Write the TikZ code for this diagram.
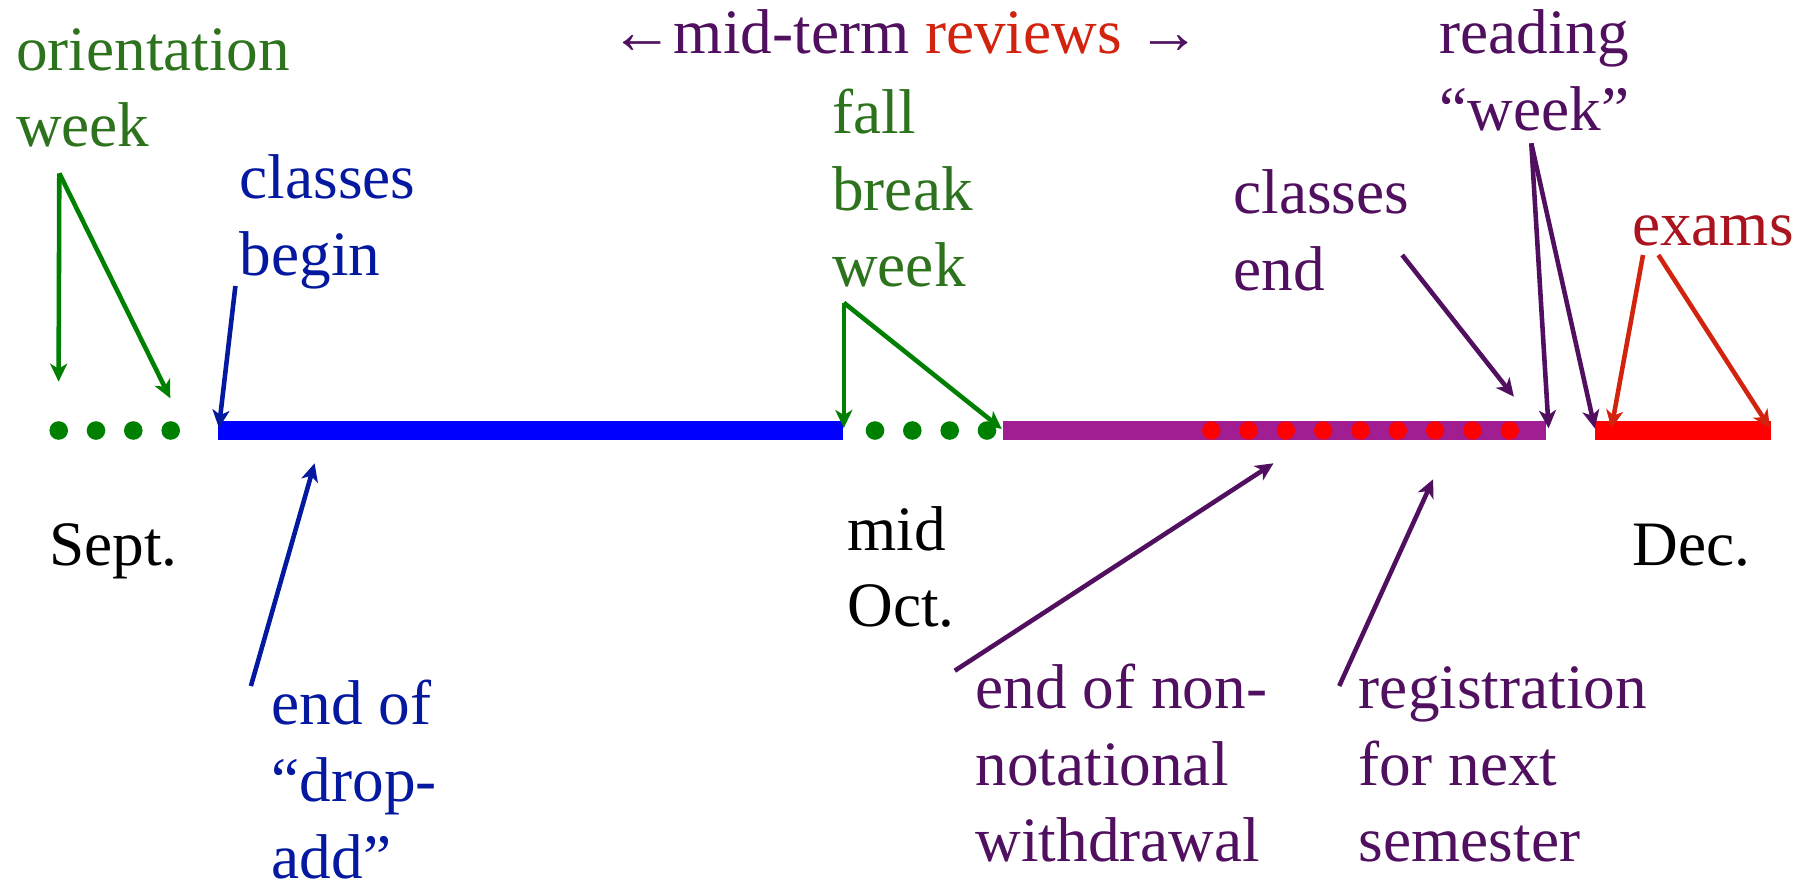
\documentclass[tikz,border=0pt]{standalone}
\usepackage{fontspec}
\setmainfont{Liberation Serif}
\usepackage{tikz}
\usetikzlibrary{arrows.meta}
\usepackage{xcolor}
\definecolor{termgreen}{RGB}{45,115,30}
\definecolor{dotgreen}{RGB}{0,128,0}
\definecolor{termblue}{RGB}{5,25,160}
\definecolor{barblue}{RGB}{0,0,255}
\definecolor{termpurple}{RGB}{80,15,95}
\definecolor{barpurple}{RGB}{160,30,145}
\definecolor{termred}{RGB}{210,35,15}
\definecolor{examred}{RGB}{170,20,30}
\definecolor{barred}{RGB}{255,0,0}
\tikzset{
    note/.style={anchor=base west, inner sep=0pt, align=left,
                 font=\fontsize{18}{21.8}\selectfont, text=#1},
    note/.default=black,
    seg/.style={line width=5.5pt, draw=#1},
}

\begin{document}
\begin{tikzpicture}[
    arr/.style={-{Stealth[length=1.8mm, width=1.7mm, inset=0.5mm]}, line width=1.3pt, draw=#1},
]
    \useasboundingbox (0,0) rectangle (18.04,8.85);

    % timeline
    \coordinate (blueL) at (2.183,4.545);
    \coordinate (blueR) at (8.427,4.545);
    \coordinate (purpL) at (10.027,4.545);
    \coordinate (purpR) at (15.46,4.545);
    \coordinate (redL) at (15.95,4.545);
    \coordinate (redR) at (17.705,4.545);
    \draw[seg=barblue] (blueL) -- (blueR);
    \draw[seg=barpurple] (purpL) -- (purpR);
    \draw[seg=barred] (redL) -- (redR);
    \foreach \x in {0.587,0.96,1.333,1.707,8.75,9.123,9.497,9.87}
        \fill[dotgreen] (\x,4.545) circle (0.093);
    \foreach \i in {0,...,8}
        \fill[barred] ({12.113+0.373*\i},4.545) circle (0.092);

    % labels (base = last line)
    \node[note=termpurple] (reviews) at (6.10,8.317)
        {←mid-term \textcolor{termred}{reviews} →};
    \node[note=termgreen] (orient) at (0.153,7.383) {orientation\\week};
    \node[note=termblue] (clbegin) at (2.39,6.10) {classes\\begin};
    \node[note=termgreen] (fall) at (8.315,5.983) {fall\\break\\week};
    \node[note=termpurple] (reading) at (14.388,7.55) {reading\\“week”};
    \node[note=termpurple] (clend) at (12.327,5.95) {classes\\end};
    \node[note=examred] (exams) at (16.314,6.40) {exams};
    \node[note] (sept) at (0.488,3.20) {Sept.};
    \node[note] (oct) at (8.467,2.583) {mid\\Oct.};
    \node[note] (dec) at (16.32,3.20) {Dec.};
    \node[note=termblue] (dropadd) at (2.71,0.07) {end of\\“drop-\\add”};
    \node[note=termpurple] (withdraw) at (9.749,0.233) {end of non-\\notational\\withdrawal};
    \node[note=termpurple] (regist) at (13.582,0.233) {registration\\for next\\semester};

    % pointers
    \coordinate (orientT) at (0.593,7.117);
    \coordinate (orientA) at (0.586,5.033);
    \coordinate (orientB) at (1.703,4.867);
    \coordinate (clbeginT) at (2.354,5.99);
    \coordinate (clbeginH) at (2.189,4.57);
    \coordinate (dropaddT) at (2.509,1.99);
    \coordinate (dropaddH) at (3.146,4.217);
    \coordinate (fallT) at (8.438,5.823);
    \coordinate (fallA) at (8.438,4.57);
    \coordinate (fallB) at (10.018,4.56);
    \coordinate (withdrawT) at (9.548,2.143);
    \coordinate (withdrawH) at (12.735,4.217);
    \coordinate (registT) at (13.392,1.99);
    \coordinate (registH) at (14.331,4.057);
    \coordinate (clendT) at (14.022,6.30);
    \coordinate (clendH) at (15.139,4.883);
    \coordinate (readingT) at (15.313,7.417);
    \coordinate (readingA) at (15.486,4.567);
    \coordinate (readingB) at (15.948,4.567);
    \coordinate (examsTA) at (16.43,6.30);
    \coordinate (examsA) at (16.114,4.567);
    \coordinate (examsTB) at (16.584,6.30);
    \coordinate (examsB) at (17.70,4.567);

    \draw[arr=dotgreen] (orientT) -- (orientA);
    \draw[arr=dotgreen] (orientT) -- (orientB);
    \draw[arr=termblue] (clbeginT) -- (clbeginH);
    \draw[arr=termblue] (dropaddT) -- (dropaddH);
    \draw[arr=dotgreen] (fallT) -- (fallA);
    \draw[arr=dotgreen] (fallT) -- (fallB);
    \draw[arr=termpurple] (withdrawT) -- (withdrawH);
    \draw[arr=termpurple] (registT) -- (registH);
    \draw[arr=termpurple] (clendT) -- (clendH);
    \draw[arr=termpurple] (readingT) -- (readingA);
    \draw[arr=termpurple] (readingT) -- (readingB);
    \draw[arr=termred] (examsTA) -- (examsA);
    \draw[arr=termred] (examsTB) -- (examsB);
\end{tikzpicture}
\end{document}
